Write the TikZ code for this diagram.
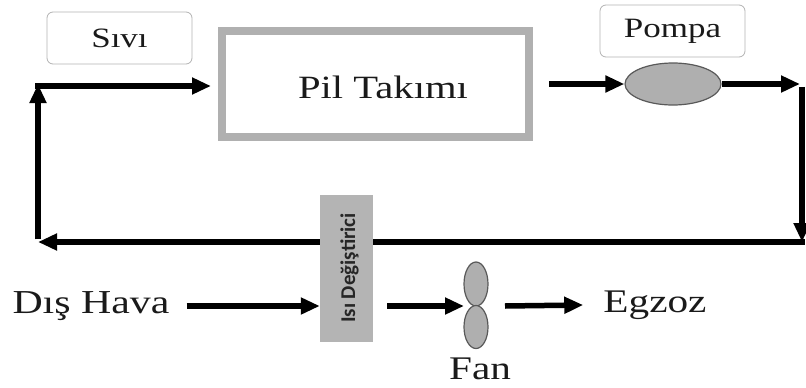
\documentclass[tikz,border=0pt]{standalone}
\usepackage{fontspec}
\setmainfont{Liberation Serif}[FakeStretch=1.25]
\newfontfamily\hxfont{Carlito}
\usetikzlibrary{arrows.meta,shapes.geometric,backgrounds}
\definecolor{txt}{HTML}{1A1A1A}
\definecolor{boxgray}{HTML}{B0B0B0}
\definecolor{hxgray}{HTML}{B4B4B4}
\definecolor{pumpgray}{HTML}{AFAFAF}
\tikzset{
  flow/.style={line width=5.5pt, -{Triangle[length=19pt,width=16pt]}},
  label box/.style={draw=gray!60, line width=0.8pt, rounded corners=6pt, minimum width=145pt, minimum height=52pt, inner sep=0pt, text=txt},
  txtnode/.style={inner sep=0pt, text=txt},
  lobe/.style={ellipse, draw=gray!70!black, line width=1.2pt, fill=pumpgray, inner sep=0pt},
}
\begin{document}
\begin{tikzpicture}[x=1pt,y=-1pt]
\useasboundingbox (0,0) rectangle (806,388);
% nodes
\node[label box, font=\fontsize{28}{30}\selectfont] (sivi) at (119.5,38) {Sıvı};
\node[label box, font=\fontsize{28}{30}\selectfont] (pompa) at (672.5,31) {Pompa};
\node[draw=boxgray, line width=8pt, minimum width=307pt, minimum height=106pt, inner sep=0pt] (pil) at (375.5,84) {};
\node[txtnode, font=\fontsize{32.5}{34}\selectfont] (piltxt) at (383,87) {Pil Takımı};
\node[lobe, minimum width=96pt, minimum height=42pt] (pump) at (673,84) {};
\node[fill=hxgray, minimum width=53pt, minimum height=147pt, inner sep=0pt] (hx) at (346.5,268.5) {};
\node[txtnode, rotate=90, font=\hxfont\bfseries\fontsize{21}{23}\selectfont, text=black!85] (hxtxt) at (349.5,268) {Isı Değiştirici};
\node[txtnode, font=\fontsize{33.5}{35}\selectfont] (dis) at (91,306) {Dış Hava};
\node[lobe, minimum width=24pt, minimum height=44pt] (fan1) at (476,284) {};
\node[lobe, minimum width=24pt, minimum height=43pt] (fan2) at (476,327) {};
\coordinate (fanc) at (476,306);
\node[txtnode, font=\fontsize{33}{35}\selectfont] (egz) at (655,305) {Egzoz};
\node[txtnode, font=\fontsize{33}{35}\selectfont] (fan) at (480,369) {Fan};
\coordinate (tr) at (802,84);
\coordinate (br) at (802,242);
\coordinate (bl) at (38,242);
\coordinate (tl) at (38,84);
% connectors
\begin{scope}[on background layer]
\draw[flow] (pump.east) -- ([xshift=-2pt]tr);
\draw[flow] ([yshift=-2.75pt]tr) -- (br);
\draw[flow] ([xshift=2.75pt]br) -- (bl);
\draw[flow] ([yshift=2.75pt]bl) -- (tl);
\draw[flow] ([yshift=-2pt,xshift=-2.75pt]tl) -- ([xshift=-7pt,yshift=-2pt]pil.west);
\draw[flow] ([xshift=16pt]pil.east) -- (pump.west);
\draw[flow] ([xshift=17pt]dis.east) -- (hx.west |- dis.east);
\draw[flow] ([xshift=14pt]hx.east |- fanc) -- ([xshift=-12pt]fanc);
\draw[flow] ([xshift=29pt]fanc) -- ([xshift=-20pt]egz.west);
\end{scope}
\end{tikzpicture}
\end{document}
